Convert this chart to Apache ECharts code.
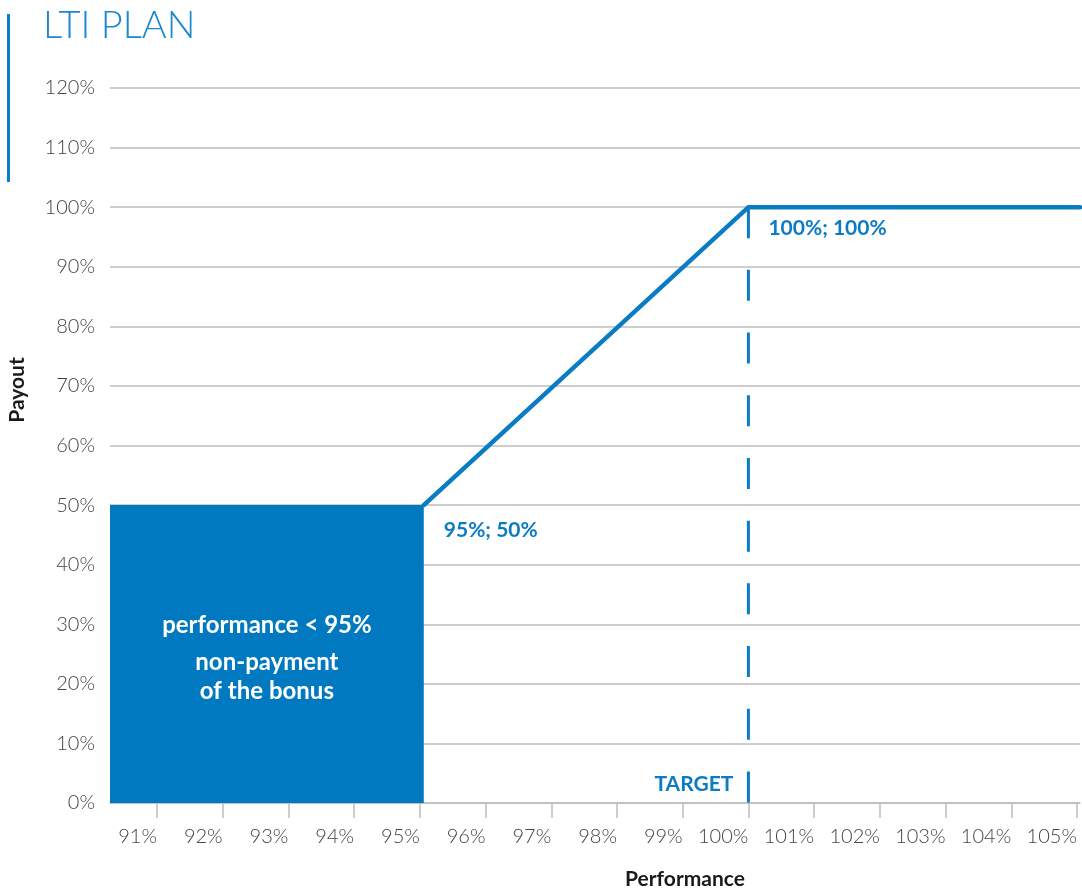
<!DOCTYPE html>
<html>
<head>
<meta charset="utf-8">
<script src="https://cdn.jsdelivr.net/npm/echarts@6/dist/echarts.min.js"></script>
<style>html,body{margin:0;padding:0;background:#fff;}#c{width:1082px;height:890px;}</style>
</head>
<body>
<div id="c"></div>
<script>
// ---- data ----
const xTicks = [91, 92, 93, 94, 95, 96, 97, 98, 99, 100, 101, 102, 103, 104, 105];
const xRange = [90.285, 105.046];
const payoutCurve = [[95.06, 50], [100, 100], [105.046, 100]];
const targetLine = [[100, 100], [100, 0]];
const noPayZone = { x0: 90.285, x1: 95.06, y0: 0, y1: 50 };
const pointLabels = [
  { value: [95.06, 50], text: '95%; 50%' },
  { value: [100, 100], text: '100%; 100%' }
];
const targetPoint = [100, 0];

const BLUE = '#0a7cc3';
const chart = echarts.init(document.getElementById('c'));
const FONT = 'Lato';

const labelBase = {
  show: true, fontFamily: FONT, fontWeight: 'bold', fontSize: 21,
  color: '#0b7cc4', textBorderWidth: 0, textShadowBlur: 0, opacity: 1, verticalAlign: 'middle'
};

chart.setOption({
  animation: false,
  title: {
    text: 'LTI PLAN', left: 38, top: 2,
    textStyle: { fontFamily: FONT, fontWeight: 300, fontSize: 38, color: '#1a88cf' }
  },
  graphic: [
    { type: 'rect', shape: { x: 7, y: 14, width: 3, height: 168 }, style: { fill: '#0a7ec8' } },
    { type: 'text', x: 17, y: 390, rotation: Math.PI / 2,
      style: { text: 'Payout', fontFamily: FONT, fontWeight: 'bold', fontSize: 21, fill: '#1a1a1a', align: 'center', verticalAlign: 'middle' } },
    { type: 'text', x: 685, y: 879,
      style: { text: 'Performance', fontFamily: FONT, fontWeight: 'bold', fontSize: 21, fill: '#1a1a1a', align: 'center', verticalAlign: 'middle' } }
  ],
  grid: { left: 110, right: 2, top: 88, bottom: 87, containLabel: false },
  xAxis: {
    type: 'value', min: xRange[0], max: xRange[1],
    axisLine: { show: true, lineStyle: { color: '#bdbdbd', width: 1.5 } },
    axisTick: { show: true, length: 15, customValues: xTicks, lineStyle: { color: '#bdbdbd', width: 1.5 } },
    axisLabel: {
      customValues: xTicks, formatter: v => v + '%', align: 'right', margin: 24,
      fontFamily: FONT, fontWeight: 300, fontSize: 20, color: '#444'
    },
    splitLine: { show: false }
  },
  yAxis: {
    type: 'value', min: 0, max: 120, interval: 10,
    axisLine: { show: false }, axisTick: { show: false },
    axisLabel: { formatter: '{value}%', margin: 15, fontFamily: FONT, fontWeight: 300, fontSize: 20, color: '#444' },
    splitLine: { lineStyle: { color: '#bdbdbd', width: 1.5 } }
  },
  series: [
    {
      type: 'line', data: targetLine, symbol: 'none', z: 3,
      lineStyle: { color: BLUE, width: 3, type: [31, 31.7] },
      markArea: {
        silent: true,
        itemStyle: { color: '#0079c1', opacity: 1 },
        label: {
          show: true, position: 'inside',
          formatter: '{a|performance < 95%}\n{b|non-payment}\n{b|of the bonus}',
          rich: {
            a: { fontFamily: FONT, fontWeight: 'bold', fontSize: 24, color: '#fff', lineHeight: 45, align: 'center' },
            b: { fontFamily: FONT, fontWeight: 'bold', fontSize: 24, color: '#fff', lineHeight: 29, align: 'center' }
          }
        },
        data: [[{ coord: [noPayZone.x0, noPayZone.y0] }, { coord: [noPayZone.x1, noPayZone.y1] }]]
      }
    },
    {
      type: 'line', data: payoutCurve, symbol: 'none', z: 4,
      lineStyle: { color: BLUE, width: 4.5, cap: 'round', join: 'miter' }
    },
    {
      type: 'scatter', symbolSize: 0, itemStyle: { color: BLUE, opacity: 1 }, z: 5,
      data: pointLabels.map((p, i) => ({
        value: p.value,
        label: Object.assign({}, labelBase, {
          formatter: p.text, position: i === 0 ? [20, 25] : [20, 21], align: 'left'
        })
      })).concat([{
        value: targetPoint,
        label: Object.assign({}, labelBase, {
          formatter: 'TARGET', position: [-15, -19], align: 'right'
        })
      }])
    }
  ]
});
</script>
</body>
</html>
